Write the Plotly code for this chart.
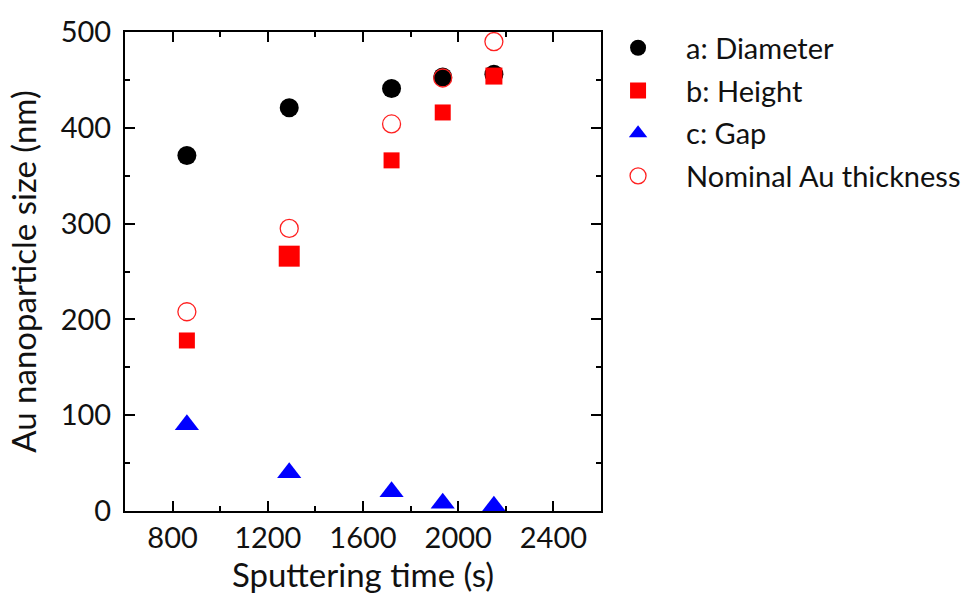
import plotly.graph_objects as go

# Sputtering time (s) for each sample
sputter_time = [860, 1290, 1720, 1935, 2150]

# Measured nanoparticle dimensions (nm)
diameter = [371, 421, 441, 453, 456]
height = [178, 266, 366, 416, 454]
gap = [90, 40, 20, 8, 5]
nominal_thickness = [208, 295, 404, 452, 490]

FONT = "Lato"
TXT = "#111111"

fig = go.Figure()

fig.add_trace(go.Scatter(
    x=sputter_time, y=diameter, mode="markers", name="a: Diameter",
    legendgroup="a",
    marker=dict(symbol="circle", size=19, color="black", opacity=1,
                line=dict(width=0)),
))
fig.add_trace(go.Scatter(
    x=sputter_time, y=height, mode="markers", name="b: Height",
    legendgroup="b",
    marker=dict(symbol="square", size=[16, 21, 16, 16, 17], color="#ff0000",
                opacity=1, line=dict(width=0)),
))
fig.add_trace(go.Scatter(
    x=sputter_time, y=gap, mode="markers", name="c: Gap",
    legendgroup="c",
    marker=dict(symbol="triangle-up", size=21, color="#0000ff", opacity=1,
                line=dict(width=0)),
))
fig.add_trace(go.Scatter(
    x=sputter_time, y=nominal_thickness, mode="markers",
    name="Nominal Au thickness", legendgroup="d",
    marker=dict(symbol="circle-open", size=18, color="#ff2020", opacity=1,
                line=dict(width=1.3, color="#ff2020")),
))

axis_common = dict(
    showline=True, linewidth=2, linecolor="black", mirror="ticks",
    ticks="inside", ticklen=10, tickwidth=2, tickcolor="black",
    showgrid=False, zeroline=False,
    tickfont=dict(family=FONT, size=29, color=TXT),
)

fig.update_xaxes(
    range=[600, 2600], tick0=800, dtick=400,
    minor=dict(ticks="inside", ticklen=5, tickwidth=2, tickcolor="black",
               dtick=200, tick0=800, showgrid=False),
    ticklabelstandoff=0,
    title=dict(text="Sputtering time (s)", standoff=8,
               font=dict(family=FONT, size=33, color=TXT)),
    **axis_common,
)
fig.update_yaxes(
    range=[0, 500], tick0=0, dtick=100,
    minor=dict(ticks="inside", ticklen=5, tickwidth=2, tickcolor="black",
               dtick=50, tick0=0, showgrid=False),
    ticklabelstandoff=6,
    title=dict(text="Au nanoparticle size (nm)", standoff=14,
               font=dict(family=FONT, size=33, color=TXT)),
    **axis_common,
)

fig.update_layout(
    width=965, height=602,
    margin=dict(l=125, r=364, t=32, b=91, autoexpand=False),
    paper_bgcolor="white", plot_bgcolor="white",
    showlegend=True,
    legend=dict(
        x=0.977, y=1.02, xanchor="left", yanchor="top",
        font=dict(family=FONT, size=29, color=TXT),
        itemwidth=86, tracegroupgap=2,
        bgcolor="rgba(0,0,0,0)",
    ),
)

fig.write_html("out.html")
